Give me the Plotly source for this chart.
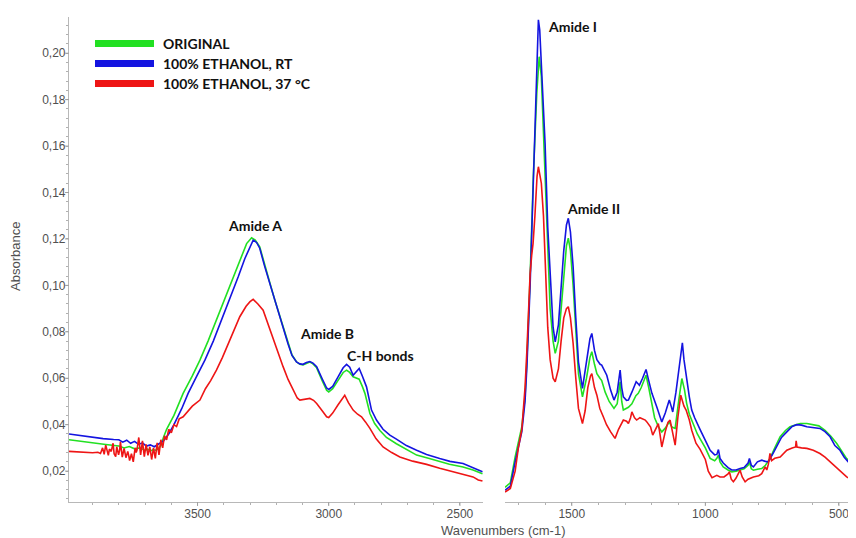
import plotly.graph_objects as go

# ---------------- data ----------------
series_names = ["ORIGINAL", "100% ETHANOL, RT", "100% ETHANOL, 37 °C"]
series_colors = ["#22e022", "#1414e0", "#ee1515"]

# Left panel (4000-2400 cm-1)
orig_left_wn = [3990, 3950, 3900, 3850, 3800, 3780, 3760, 3740, 3720, 3700, 3690, 3680, 3670, 3660, 3650, 3640, 3630,
                3618, 3590, 3555, 3520, 3491, 3460, 3428, 3395, 3364, 3340, 3313, 3294, 3280, 3263, 3245, 3224, 3205,
                3186, 3170, 3155, 3140, 3123, 3110, 3098, 3085, 3072, 3060, 3046, 3025, 3008, 3000, 2985, 2965, 2945,
                2932, 2920, 2907, 2895, 2884, 2872, 2862, 2843, 2825, 2805, 2780, 2742, 2700, 2665, 2620, 2577, 2540,
                2488, 2450, 2414]
orig_left_abs = [0.0335, 0.0330, 0.0322, 0.0315, 0.0308, 0.0300, 0.0306, 0.0296, 0.0300, 0.0289, 0.0295, 0.0287, 0.0292,
                 0.0290, 0.0296, 0.0310, 0.0345, 0.0380, 0.0440, 0.0535, 0.0610, 0.0678, 0.0760, 0.0850, 0.0945, 0.1037,
                 0.1105, 0.1180, 0.1205, 0.1195, 0.1166, 0.1090, 0.1009, 0.0935, 0.0865, 0.0805, 0.0750, 0.0700, 0.0671,
                 0.0660, 0.0657, 0.0665, 0.0670, 0.0662, 0.0645, 0.0590, 0.0548, 0.0541, 0.0555, 0.0590, 0.0625, 0.0635,
                 0.0625, 0.0606, 0.0600, 0.0596, 0.0565, 0.0535, 0.0448, 0.0405, 0.0375, 0.0345, 0.0318, 0.0292, 0.0269,
                 0.0255, 0.0240, 0.0230, 0.0218, 0.0205, 0.0189]

rt_left_wn = [3990, 3950, 3900, 3860, 3820, 3800, 3785, 3770, 3755, 3740, 3725, 3710, 3695, 3680, 3665, 3650, 3630, 3610,
              3590, 3560, 3536, 3505, 3472, 3440, 3409, 3375, 3345, 3320, 3300, 3288, 3275, 3263, 3245, 3224, 3205, 3186,
              3170, 3155, 3140, 3123, 3110, 3098, 3085, 3072, 3060, 3046, 3025, 3008, 3000, 2985, 2965, 2945, 2932, 2920,
              2907, 2895, 2884, 2872, 2856, 2837, 2818, 2793, 2767, 2742, 2704, 2665, 2627, 2577, 2538, 2488, 2450, 2414]
rt_left_abs = [0.0360, 0.0353, 0.0347, 0.0340, 0.0336, 0.0335, 0.0325, 0.0333, 0.0320, 0.0328, 0.0315, 0.0322, 0.0308,
               0.0313, 0.0305, 0.0315, 0.0330, 0.0360, 0.0400, 0.0470, 0.0535, 0.0605, 0.0678, 0.0760, 0.0850, 0.0945,
               0.1037, 0.1115, 0.1170, 0.1195, 0.1185, 0.1160, 0.1085, 0.1005, 0.0930, 0.0862, 0.0802, 0.0748, 0.0698,
               0.0670, 0.0662, 0.0660, 0.0668, 0.0672, 0.0665, 0.0650, 0.0598, 0.0558, 0.0552, 0.0565, 0.0605, 0.0645,
               0.0660, 0.0648, 0.0613, 0.0630, 0.0642, 0.0610, 0.0563, 0.0463, 0.0420, 0.0380, 0.0355, 0.0338, 0.0310,
               0.0290, 0.0272, 0.0254, 0.0242, 0.0233, 0.0215, 0.0197]

hot_left_wn = [3990, 3960, 3930, 3900, 3880, 3870, 3862, 3856, 3850, 3846, 3840, 3836, 3829, 3822, 3818, 3812, 3808, 3801,
               3797, 3794, 3787, 3783, 3780, 3773, 3766, 3762, 3759, 3752, 3748, 3745, 3738, 3734, 3731, 3727, 3724, 3717,
               3713, 3710, 3703, 3699, 3696, 3689, 3685, 3682, 3675, 3671, 3668, 3661, 3657, 3654, 3647, 3643, 3640, 3633,
               3626, 3618, 3610, 3600, 3590, 3580, 3570, 3555, 3540, 3520, 3491, 3470, 3450, 3428, 3405, 3383, 3360, 3339,
               3315, 3300, 3288, 3270, 3250, 3230, 3212, 3190, 3174, 3155, 3136, 3120, 3110, 3090, 3072, 3058, 3046, 3025,
               3008, 3000, 2985, 2965, 2950, 2939, 2925, 2907, 2890, 2875, 2860, 2843, 2820, 2793, 2760, 2729, 2680, 2627,
               2577, 2526, 2480, 2450, 2430, 2414]
hot_left_abs = [0.0285, 0.0282, 0.0280, 0.0279, 0.0281, 0.0276, 0.0300, 0.0272, 0.0312, 0.0290, 0.0268, 0.0295, 0.0285,
                0.0320, 0.0275, 0.0262, 0.0305, 0.0270, 0.0290, 0.0326, 0.0260, 0.0282, 0.0298, 0.0258, 0.0285, 0.0265,
                0.0245, 0.0275, 0.0252, 0.0240, 0.0300, 0.0280, 0.0290, 0.0318, 0.0345, 0.0270, 0.0298, 0.0330, 0.0262,
                0.0288, 0.0315, 0.0268, 0.0290, 0.0305, 0.0250, 0.0278, 0.0300, 0.0255, 0.0290, 0.0322, 0.0270, 0.0302,
                0.0335, 0.0300, 0.0352, 0.0335, 0.0380, 0.0365, 0.0400, 0.0392, 0.0425, 0.0434, 0.0455, 0.0480, 0.0506,
                0.0555, 0.0590, 0.0635, 0.0690, 0.0750, 0.0810, 0.0865, 0.0910, 0.0930, 0.0940, 0.0920, 0.0893, 0.0830,
                0.0764, 0.0700, 0.0650, 0.0595, 0.0549, 0.0515, 0.0506, 0.0510, 0.0513, 0.0505, 0.0491, 0.0460, 0.0434,
                0.0431, 0.0450, 0.0485, 0.0510, 0.0527, 0.0495, 0.0463, 0.0445, 0.0434, 0.0412, 0.0384, 0.0340, 0.0304,
                0.0280, 0.0261, 0.0243, 0.0229, 0.0212, 0.0197, 0.0185, 0.0175, 0.0162, 0.0157]

# Right panel (1750-430 cm-1)
orig_right_wn = [1750, 1730, 1712, 1700, 1687, 1675, 1668, 1656, 1644, 1631, 1622, 1614, 1606, 1600, 1590, 1581, 1570,
                 1562, 1550, 1540, 1530, 1520, 1513, 1505, 1495, 1485, 1475, 1460, 1445, 1432, 1425, 1415, 1406, 1394,
                 1388, 1375, 1360, 1342, 1330, 1322, 1319, 1313, 1307, 1288, 1275, 1260, 1251, 1240, 1230, 1222, 1212,
                 1200, 1190, 1175, 1163, 1150, 1135, 1125, 1113, 1100, 1088, 1078, 1070, 1060, 1045, 1030, 1020, 1000,
                 982, 965, 957, 951, 945, 933, 915, 901, 885, 870, 855, 840, 835, 828, 820, 805, 789, 775, 758, 740,
                 720, 700, 683, 660, 645, 620, 596, 575, 552, 530, 508, 490, 471, 455, 440]
orig_right_abs = [0.0130, 0.0150, 0.0261, 0.0320, 0.0391, 0.0520, 0.0678, 0.1037, 0.1468, 0.1828, 0.1985, 0.1900,
                  0.1650, 0.1450, 0.1100, 0.0900, 0.0760, 0.0707, 0.0760, 0.0900, 0.1060, 0.1170, 0.1203, 0.1150,
                  0.1000, 0.0800, 0.0620, 0.0520, 0.0600, 0.0690, 0.0714, 0.0660, 0.0620, 0.0599, 0.0590, 0.0540,
                  0.0500, 0.0470, 0.0490, 0.0560, 0.0585, 0.0500, 0.0463, 0.0475, 0.0490, 0.0525, 0.0535, 0.0560,
                  0.0590, 0.0613, 0.0560, 0.0484, 0.0430, 0.0390, 0.0369, 0.0385, 0.0412, 0.0390, 0.0384, 0.0500,
                  0.0599, 0.0550, 0.0492, 0.0445, 0.0398, 0.0360, 0.0340, 0.0300, 0.0255, 0.0245, 0.0255, 0.0269,
                  0.0240, 0.0218, 0.0205, 0.0197, 0.0200, 0.0204, 0.0210, 0.0225, 0.0240, 0.0210, 0.0204, 0.0208,
                  0.0211, 0.0225, 0.0254, 0.0300, 0.0348, 0.0375, 0.0391, 0.0400, 0.0405, 0.0405, 0.0400, 0.0395,
                  0.0376, 0.0350, 0.0319, 0.0290, 0.0254, 0.0240, 0.0233]

rt_right_wn = [1750, 1730, 1712, 1700, 1687, 1675, 1668, 1656, 1644, 1635, 1628, 1625, 1620, 1612, 1600, 1590, 1581,
               1570, 1562, 1550, 1540, 1530, 1520, 1513, 1505, 1495, 1485, 1475, 1460, 1445, 1432, 1425, 1415, 1406,
               1394, 1388, 1375, 1369, 1355, 1342, 1330, 1322, 1319, 1313, 1307, 1295, 1288, 1275, 1265, 1259, 1251,
               1247, 1235, 1222, 1212, 1200, 1182, 1170, 1163, 1150, 1140, 1135, 1128, 1122, 1110, 1101, 1090, 1086,
               1080, 1070, 1060, 1051, 1040, 1020, 1000, 982, 965, 957, 951, 945, 933, 915, 901, 885, 870, 855, 840,
               835, 828, 820, 805, 789, 775, 764, 745, 733, 715, 695, 675, 658, 640, 620, 596, 571, 552, 533, 515, 496,
               480, 465, 440]
rt_right_abs = [0.0118, 0.0135, 0.0240, 0.0300, 0.0370, 0.0500, 0.0650, 0.1000, 0.1450, 0.1850, 0.2080, 0.2144, 0.2100,
                0.1900, 0.1612, 0.1250, 0.1037, 0.0820, 0.0757, 0.0830, 0.0990, 0.1150, 0.1260, 0.1289, 0.1230, 0.1080,
                0.0860, 0.0670, 0.0556, 0.0670, 0.0770, 0.0793, 0.0720, 0.0680, 0.0660, 0.0657, 0.0625, 0.0613, 0.0550,
                0.0506, 0.0540, 0.0620, 0.0635, 0.0560, 0.0520, 0.0505, 0.0506, 0.0540, 0.0570, 0.0585, 0.0575, 0.0570,
                0.0600, 0.0638, 0.0590, 0.0535, 0.0477, 0.0440, 0.0412, 0.0450, 0.0495, 0.0506, 0.0480, 0.0455, 0.0540,
                0.0621, 0.0720, 0.0753, 0.0680, 0.0592, 0.0520, 0.0463, 0.0430, 0.0380, 0.0330, 0.0290, 0.0270, 0.0272,
                0.0293, 0.0255, 0.0235, 0.0215, 0.0205, 0.0205, 0.0211, 0.0215, 0.0235, 0.0254, 0.0225, 0.0218, 0.0240,
                0.0247, 0.0242, 0.0240, 0.0280, 0.0304, 0.0345, 0.0369, 0.0392, 0.0400, 0.0398, 0.0391, 0.0388, 0.0384,
                0.0370, 0.0348, 0.0310, 0.0290, 0.0260, 0.0240, 0.0218]

hot_right_wn = [1750, 1730, 1712, 1700, 1687, 1675, 1668, 1660, 1656, 1650, 1645, 1638, 1630, 1625, 1620, 1614, 1606,
                1600, 1590, 1581, 1570, 1562, 1550, 1540, 1530, 1520, 1513, 1505, 1495, 1485, 1475, 1460, 1450, 1440,
                1430, 1425, 1415, 1406, 1395, 1382, 1370, 1355, 1338, 1325, 1307, 1295, 1288, 1280, 1275, 1265, 1257,
                1245, 1238, 1225, 1219, 1205, 1197, 1186, 1176, 1170, 1163, 1150, 1140, 1132, 1122, 1113, 1103, 1092,
                1080, 1072, 1060, 1051, 1035, 1020, 1000, 989, 975, 957, 945, 930, 915, 910, 903, 895, 885, 875, 870,
                862, 851, 840, 820, 800, 789, 776, 770, 764, 758, 752, 740, 720, 695, 675, 662, 660, 657, 640, 620, 596,
                571, 552, 521, 496, 471, 455, 440]
hot_right_abs = [0.0110, 0.0125, 0.0200, 0.0300, 0.0380, 0.0560, 0.0720, 0.0950, 0.1050, 0.1130, 0.1180, 0.1300,
                 0.1470, 0.1511, 0.1470, 0.1440, 0.1300, 0.1100, 0.0820, 0.0680, 0.0600, 0.0585, 0.0640, 0.0760,
                 0.0860, 0.0900, 0.0908, 0.0860, 0.0750, 0.0600, 0.0470, 0.0405, 0.0460, 0.0560, 0.0610, 0.0620,
                 0.0560, 0.0527, 0.0470, 0.0434, 0.0400, 0.0370, 0.0341, 0.0380, 0.0420, 0.0415, 0.0405, 0.0430,
                 0.0455, 0.0430, 0.0420, 0.0430, 0.0427, 0.0420, 0.0412, 0.0390, 0.0355, 0.0385, 0.0405, 0.0360,
                 0.0304, 0.0370, 0.0410, 0.0420, 0.0360, 0.0312, 0.0430, 0.0527, 0.0480, 0.0463, 0.0420, 0.0376,
                 0.0320, 0.0295, 0.0250, 0.0200, 0.0172, 0.0182, 0.0175, 0.0175, 0.0188, 0.0197, 0.0165, 0.0154,
                 0.0170, 0.0190, 0.0204, 0.0175, 0.0154, 0.0165, 0.0175, 0.0180, 0.0189, 0.0218, 0.0205, 0.0230,
                 0.0276, 0.0245, 0.0255, 0.0261, 0.0290, 0.0300, 0.0304, 0.0330, 0.0304, 0.0300, 0.0298, 0.0290,
                 0.0276, 0.0260, 0.0226, 0.0200, 0.0175, 0.0165, 0.0160]

y_ticks = [0.02, 0.04, 0.06, 0.08, 0.10, 0.12, 0.14, 0.16, 0.18, 0.20]
x_left_ticks = [3500, 3000, 2500]
x_right_ticks = [1500, 1000, 500]

band_labels = ["Amide A", "Amide B", "C-H bonds", "Amide I", "Amide II"]

# ---------------- figure ----------------
# The page body has an 8 px default margin, so the figure is 8 px smaller
# and every reference pixel position is shifted by that offset.
OFF = 8
W, H = 856 - OFF, 538 - OFF
L, R, T, B = 69 - OFF, 0, 17 - OFF, 538 - 502
pw, ph = W - L - R, H - T - B
TICK_COLOR = "#a0a0a0"
MAJOR_LEN = 4


def px_x(p):
    return (p - OFF - L) / pw


def px_y(p):
    return (H - B - (p - OFF)) / ph


fig = go.Figure()
left_sets = [(orig_left_wn, orig_left_abs), (rt_left_wn, rt_left_abs), (hot_left_wn, hot_left_abs)]
right_sets = [(orig_right_wn, orig_right_abs), (rt_right_wn, rt_right_abs), (hot_right_wn, hot_right_abs)]
for i in range(3):
    xl, yl = left_sets[i]
    xr, yr = right_sets[i]
    fig.add_trace(go.Scatter(x=xl, y=yl, mode="lines", name=series_names[i], xaxis="x", yaxis="y",
                             line=dict(color=series_colors[i], width=1.6), showlegend=False))
    fig.add_trace(go.Scatter(x=xr, y=yr, mode="lines", name=series_names[i], xaxis="x2", yaxis="y",
                             line=dict(color=series_colors[i], width=1.6), showlegend=False))

tick_font = dict(family="Liberation Sans, Arial, sans-serif", size=12, color="#505050")


def axis_style(minor_dtick, **extra):
    # major tick marks are drawn as pixel-sized shapes below, so labels sit close to the axis line
    d = dict(showline=True, linecolor="#b8b8b8", linewidth=1.2, ticks="",
             tickfont=tick_font, showgrid=False, zeroline=False, automargin=False,
             minor=dict(ticks="outside", ticklen=2, tickcolor="#b0b0b0", dtick=minor_dtick, tick0=0))
    d.update(extra)
    return d


fig.update_layout(
    width=W, height=H,
    margin=dict(l=L, r=R, t=T, b=B, autoexpand=False),
    plot_bgcolor="white", paper_bgcolor="white",
    separators=",.",
    xaxis=axis_style(100, domain=[0, px_x(483)], range=[3990, 2412], tickvals=x_left_ticks, anchor="y"),
    xaxis2=axis_style(100, domain=[px_x(505), 1], range=[1750, 436], tickvals=x_right_ticks, anchor="y"),
    yaxis=axis_style(0.004, domain=[0, 1], range=[0.0067, 0.2156], tickvals=y_ticks, tickformat=".2f",
                     anchor="x"),
    showlegend=False,
)

# major tick marks (placed at the tick values through the axes' own scales)
for xr_name, ticks in (("x", x_left_ticks), ("x2", x_right_ticks)):
    for tv in ticks:
        fig.add_shape(type="line", xref=xr_name, yref="paper", ysizemode="pixel", yanchor=0,
                      x0=tv, x1=tv, y0=0, y1=-MAJOR_LEN, line=dict(color=TICK_COLOR, width=1))
for tv in y_ticks:
    fig.add_shape(type="line", xref="paper", yref="y", xsizemode="pixel", xanchor=0,
                  x0=0, x1=-MAJOR_LEN, y0=tv, y1=tv, line=dict(color=TICK_COLOR, width=1))

ann_font = dict(family="Lato, Open Sans, sans-serif", size=14, color="#111111")
# band labels (positions in data units of each panel)
fig.add_annotation(x=3282, y=0.1256, xref="x", yref="y", text="<b>" + band_labels[0] + "</b>", showarrow=False,
                   font=ann_font)
fig.add_annotation(x=3005, y=0.0794, xref="x", yref="y", text="<b>" + band_labels[1] + "</b>", showarrow=False,
                   font=ann_font)
fig.add_annotation(x=2801, y=0.0697, xref="x", yref="y", text="<b>" + band_labels[2] + "</b>", showarrow=False,
                   font=ann_font)
fig.add_annotation(x=1497, y=0.2115, xref="x2", yref="y", text="<b>" + band_labels[3] + "</b>", showarrow=False,
                   font=ann_font)
fig.add_annotation(x=1420, y=0.1332, xref="x2", yref="y", text="<b>" + band_labels[4] + "</b>", showarrow=False,
                   font=ann_font)

# axis titles
fig.add_annotation(x=px_x(503), y=px_y(530), xref="paper", yref="paper", xanchor="center", yanchor="middle",
                   text="Wavenumbers (cm-1)", showarrow=False,
                   font=dict(family="Liberation Sans, Arial, sans-serif", size=13, color="#505050"))
fig.add_annotation(x=px_x(15), y=px_y(256), xref="paper", yref="paper", xanchor="center", yanchor="middle",
                   text="Absorbance", textangle=-90, showarrow=False,
                   font=dict(family="Liberation Sans, Arial, sans-serif", size=13, color="#505050"))

# legend (line swatches + labels)
leg_rows = [43.5, 63.5, 83.5]
for i in range(3):
    yy = px_y(leg_rows[i])
    fig.add_shape(type="line", xref="paper", yref="paper", x0=px_x(95), x1=px_x(154), y0=yy, y1=yy,
                  line=dict(color=series_colors[i], width=7))
    fig.add_annotation(x=px_x(161), y=yy, xref="paper", yref="paper", xanchor="left", yanchor="middle",
                       text="<b>" + series_names[i] + "</b>", showarrow=False, font=ann_font)

fig.write_html("out.html")
